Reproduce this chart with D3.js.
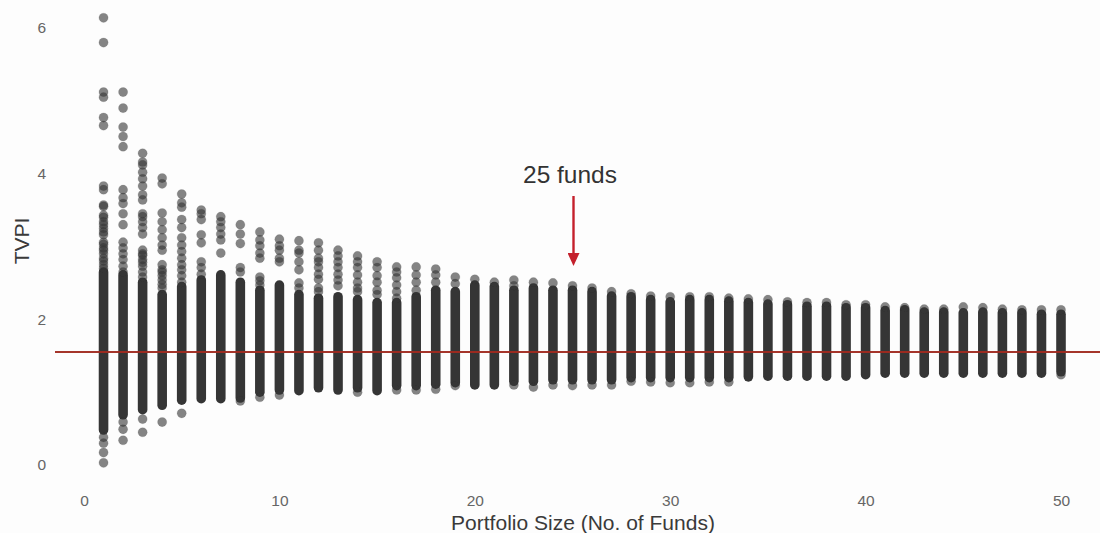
<!DOCTYPE html>
<html>
<head>
<meta charset="utf-8">
<script src="https://cdn.jsdelivr.net/npm/d3@7"></script>
<style>
  html, body { margin: 0; padding: 0; background: #fdfdfd; overflow: hidden; }
  text { font-family: "Liberation Sans", Arial, sans-serif; }
</style>
</head>
<body>
<script>
var sizes = d3.range(1, 51);

// solid part of each column (TVPI)
var bandHigh = [2.65, 2.61, 2.51, 2.34, 2.45, 2.54, 2.61, 2.51, 2.40, 2.47,
  2.34, 2.29, 2.31, 2.27, 2.23, 2.23, 2.31, 2.40, 2.38, 2.47,
  2.45, 2.40, 2.43, 2.40, 2.40, 2.38, 2.32, 2.31, 2.27, 2.24,
  2.27, 2.27, 2.25, 2.23, 2.21, 2.20, 2.18, 2.18, 2.16, 2.16,
  2.12, 2.13, 2.10, 2.10, 2.09, 2.10, 2.09, 2.09, 2.07, 2.07];
var bandLow = [0.48, 0.69, 0.76, 0.82, 0.89, 0.91, 0.91, 0.92, 1.00, 1.03,
  1.02, 1.06, 1.03, 1.06, 1.02, 1.09, 1.09, 1.11, 1.13, 1.10,
  1.10, 1.15, 1.15, 1.17, 1.17, 1.17, 1.17, 1.20, 1.20, 1.20,
  1.20, 1.20, 1.20, 1.21, 1.22, 1.22, 1.22, 1.22, 1.22, 1.24,
  1.26, 1.26, 1.26, 1.26, 1.26, 1.26, 1.26, 1.26, 1.26, 1.28];

// single funds/portfolios that show as separate dots, one list per portfolio size
var dots = [
  [6.14, 5.80, 5.12, 5.05, 4.77, 4.66, 3.83, 3.78, 3.57, 3.55, 3.43, 3.40, 3.34, 3.30, 3.25, 3.20, 3.16, 3.06, 3.03, 2.98, 2.95, 2.90, 2.84, 2.80, 2.75, 2.70, 0.38, 0.30, 0.17, 0.03],
  [5.12, 4.90, 4.64, 4.51, 4.37, 3.78, 3.67, 3.59, 3.45, 3.30, 3.06, 2.98, 2.90, 2.82, 2.73, 2.65, 0.59, 0.49, 0.34],
  [4.28, 4.16, 4.12, 4.02, 3.93, 3.83, 3.71, 3.64, 3.45, 3.41, 3.34, 3.26, 3.17, 2.95, 2.90, 2.88, 2.82, 2.78, 2.73, 2.65, 2.58, 0.63, 0.45],
  [3.94, 3.86, 3.46, 3.34, 3.23, 3.12, 3.02, 2.95, 2.75, 2.68, 2.65, 2.60, 2.54, 2.48, 2.43, 0.59],
  [3.72, 3.60, 3.54, 3.37, 3.26, 3.12, 3.02, 2.93, 2.84, 2.75, 2.68, 2.60, 2.51, 0.71],
  [3.50, 3.45, 3.37, 3.16, 3.05, 2.79, 2.71, 2.62],
  [3.41, 3.34, 3.26, 3.17, 3.09, 2.91],
  [3.30, 3.17, 3.04, 2.71, 2.65, 0.88],
  [3.20, 3.09, 3.01, 2.91, 2.84, 2.58, 2.53, 2.47, 0.93],
  [3.10, 3.01, 2.95, 2.84, 2.79, 0.96],
  [3.08, 2.95, 2.91, 2.79, 2.68, 2.50, 2.43],
  [3.05, 2.95, 2.84, 2.79, 2.71, 2.62, 2.55, 2.43, 2.38],
  [2.95, 2.87, 2.79, 2.71, 2.62, 2.54, 2.46],
  [2.87, 2.79, 2.71, 2.61, 2.51, 2.43, 2.38, 1.00],
  [2.79, 2.71, 2.60, 2.51, 2.40, 2.34],
  [2.72, 2.65, 2.57, 2.47, 2.38, 2.29, 1.03],
  [2.72, 2.61, 2.51, 2.40, 1.03],
  [2.69, 2.61, 2.51, 1.04],
  [2.58, 2.49, 1.09],
  [2.55],
  [2.51],
  [2.54, 2.46, 1.10],
  [2.51, 1.07],
  [2.50, 1.10],
  [2.46, 1.09],
  [2.43, 1.10],
  [2.38, 1.10],
  [2.35, 1.15],
  [2.32, 1.14],
  [2.31, 1.13],
  [2.31, 1.13],
  [2.31, 1.14],
  [2.29, 1.14],
  [2.28],
  [2.27],
  [2.24],
  [2.23],
  [2.23],
  [2.20],
  [2.20],
  [2.17],
  [2.16],
  [2.14],
  [2.14],
  [2.17],
  [2.16],
  [2.14],
  [2.13],
  [2.13],
  [2.13, 1.24]
];

var avgTvpi = 1.55;
var xTicks = [0, 10, 20, 30, 40, 50];
var yTicks = [0, 2, 4, 6];

var width = 1100, height = 533;

var x = d3.scaleLinear().domain([0, 50]).range([84, 1061]);
var y = d3.scaleLinear().domain([0, 6]).range([465, 28]);

var svg = d3.select("body").append("svg")
    .attr("width", width)
    .attr("height", height)
    .style("display", "block");

var defs = svg.append("defs");
defs.append("marker")
    .attr("id", "head")
    .attr("markerUnits", "userSpaceOnUse")
    .attr("viewBox", "0 0 12 13")
    .attr("refX", 6).attr("refY", 1)
    .attr("markerWidth", 12).attr("markerHeight", 13)
    .attr("orient", "0")
  .append("path")
    .attr("d", "M0,0L12,0L6,13Z")
    .attr("fill", "#c4202c");

// the reference is a slightly soft scan
defs.append("filter")
    .attr("id", "soft")
  .append("feGaussianBlur")
    .attr("stdDeviation", 0.4);

var marks = svg.append("g").attr("filter", "url(#soft)");

// columns
marks.append("g").selectAll("line")
    .data(sizes)
  .enter().append("line")
    .attr("x1", (d) => x(d))
    .attr("x2", (d) => x(d))
    .attr("y1", (d, i) => y(bandHigh[i]))
    .attr("y2", (d, i) => y(bandLow[i]))
    .attr("stroke", "#353535")
    .attr("stroke-width", 9.6)
    .attr("stroke-linecap", "round");

// loose dots
var points = [];
dots.forEach(function(list, i) {
  list.forEach(function(v) { points.push({size: sizes[i], value: v}); });
});

marks.append("g").selectAll("circle")
    .data(points)
  .enter().append("circle")
    .attr("cx", (d) => x(d.size))
    .attr("cy", (d) => y(d.value))
    .attr("r", 4.6)
    .attr("fill", "#333")
    .attr("fill-opacity", 0.6)
    .attr("stroke", "#333")
    .attr("stroke-opacity", 0.2)
    .attr("stroke-width", 0.6);

// average line
svg.append("line")
    .attr("x1", 55)
    .attr("x2", width)
    .attr("y1", y(avgTvpi))
    .attr("y2", y(avgTvpi))
    .attr("stroke", "#a02a20")
    .attr("stroke-opacity", 0.95)
    .attr("stroke-width", 2);

// axes
var xAxis = svg.append("g")
    .attr("transform", "translate(0,495)")
    .call(d3.axisBottom(x).tickValues(xTicks).tickSize(0).tickPadding(0).tickFormat(d3.format("d")));
var yAxis = svg.append("g")
    .attr("transform", "translate(46,0)")
    .call(d3.axisLeft(y).tickValues(yTicks).tickSize(0).tickPadding(0).tickFormat(d3.format("d")));
xAxis.select(".domain").remove();
yAxis.select(".domain").remove();
svg.selectAll(".tick text")
    .style("font-family", '"Liberation Sans", Arial, sans-serif')
    .style("font-size", "15.5px")
    .attr("fill", "#666");

svg.append("text")
    .attr("x", 583)
    .attr("y", 529.5)
    .attr("text-anchor", "middle")
    .attr("font-size", 21)
    .attr("fill", "#3a3a3a")
    .text("Portfolio Size (No. of Funds)");

svg.append("text")
    .attr("transform", "translate(28.5,241) rotate(-90)")
    .attr("text-anchor", "middle")
    .attr("font-size", 21)
    .attr("fill", "#3a3a3a")
    .text("TVPI");

// annotation at 25 funds
svg.append("text")
    .attr("x", 570)
    .attr("y", 183)
    .attr("text-anchor", "middle")
    .attr("font-size", 24.5)
    .attr("fill", "#333")
    .text("25 funds");

svg.append("line")
    .attr("x1", x(25) + 1)
    .attr("x2", x(25) + 1)
    .attr("y1", 196)
    .attr("y2", 254)
    .attr("stroke", "#c4202c")
    .attr("stroke-width", 2.4)
    .attr("marker-end", "url(#head)");
</script>
</body>
</html>
